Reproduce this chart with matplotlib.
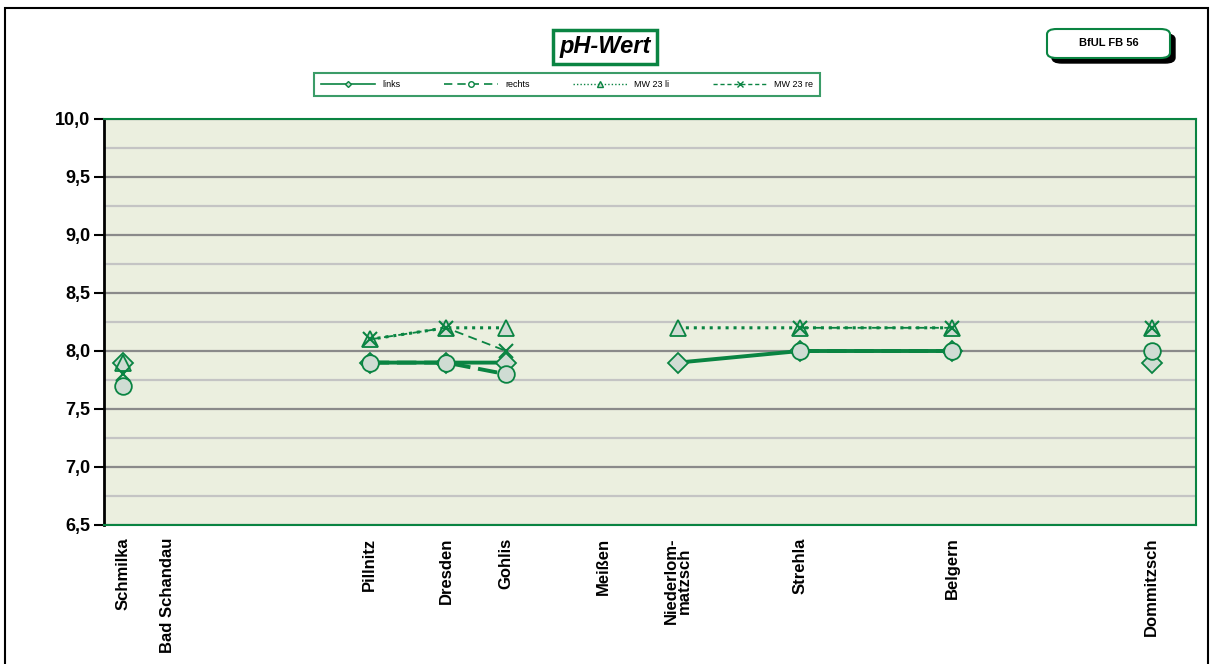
import numpy as np
import matplotlib
matplotlib.use("Agg")
import matplotlib.pyplot as plt
from matplotlib.lines import Line2D
from matplotlib.patches import Rectangle, FancyBboxPatch
from matplotlib.ticker import MultipleLocator, FuncFormatter

plt.rcParams['font.family'] = ['Liberation Sans', 'DejaVu Sans']

# --- data -------------------------------------------------------------
stations = ["Schmilka", "Bad Schandau", "Pillnitz", "Dresden", "Gohlis", "Meißen",
            "Niederlom-\nmatzsch", "Strehla", "Belgern", "Dommitzsch"]
km = [3.1, 10.5, 43.8, 56.4, 66.3, 82.3, 94.6, 114.7, 139.8, 172.7]
nan = np.nan
links = [7.9, nan, 7.9, 7.9, 7.9, nan, 7.9, 8.0, 8.0, 7.9]
rechts = [7.7, nan, 7.9, 7.9, 7.8, nan, nan, 8.0, 8.0, 8.0]
mw23_li = [7.9, nan, 8.1, 8.2, 8.2, nan, 8.2, 8.2, 8.2, 8.2]
mw23_re = [7.8, nan, 8.1, 8.2, 8.0, nan, nan, 8.2, 8.2, 8.2]
# stations that start a new (unconnected) line section
break_before = ["Dommitzsch"]
series_names = ["links", "rechts", "MW 23 li", "MW 23 re"]
title = "pH-Wert"
badge = "BfUL FB 56"

# --- style ------------------------------------------------------------
GREEN = "#0a8442"
FILL = "#cfdcd3"
BG = "#ebefdf"

W, H = 1211, 664
fig = plt.figure(figsize=(W / 100, H / 100), dpi=100)
fig.patch.set_facecolor("white")

def fx(px):
    return px / W

def fy(py):
    return 1 - py / H

ax = fig.add_axes([fx(104), fy(525), fx(1196) - fx(104), fy(119) - fy(525)])
ax.set_facecolor(BG)
ax.set_xlim(0, 180)
ax.set_ylim(6.5, 10.0)

# grid
ax.yaxis.set_major_locator(MultipleLocator(0.5))
ax.yaxis.set_minor_locator(MultipleLocator(0.25))
ax.grid(which="major", axis="y", color="#8a8a8a", lw=1.6, zorder=0)
ax.grid(which="minor", axis="y", color="#c4c4c4", lw=1.6, zorder=0)
ax.set_axisbelow(True)

ax.yaxis.set_major_formatter(FuncFormatter(lambda v, p: f"{v:.1f}".replace(".", ",")))
ax.tick_params(axis="y", which="major", direction="out", length=7, width=1.5,
               color="black", labelsize=13, pad=3)
ax.tick_params(axis="y", which="minor", length=0)
for lab in ax.get_yticklabels():
    lab.set_fontweight("bold")

ax.set_xticks(km)
ax.set_xticklabels(stations, rotation=90, fontsize=12, fontweight="bold",
                   linespacing=0.9)
ax.tick_params(axis="x", length=0, pad=9)

for side in ["top", "right", "bottom"]:
    ax.spines[side].set_color(GREEN)
    ax.spines[side].set_linewidth(1.5)
ax.spines["left"].set_color("black")
ax.spines["left"].set_linewidth(2)

# split series into sections at the breaks
x_arr = np.array(km, dtype=float)
sec_id = np.cumsum([1 if s in break_before else 0 for s in stations])


def plot_series(vals, line_kw, marker_kw, z):
    v = np.array(vals, dtype=float)
    for s in np.unique(sec_id):
        m = sec_id == s
        ax.plot(x_arr[m], v[m], zorder=z, marker="none", **line_kw)
    ax.plot(x_arr, v, ls="none", zorder=z + 0.5, **marker_kw)


plot_series(links, dict(color=GREEN, lw=2.8, ls="-"),
            dict(marker="D", ms=10, mfc=FILL, mec=GREEN, mew=1.3), 3)
plot_series(rechts, dict(color=GREEN, lw=2.8, ls=(0, (5, 2))),
            dict(marker="o", ms=12, mfc=FILL, mec=GREEN, mew=1.3), 4)
plot_series(mw23_li, dict(color=GREEN, lw=2.2, ls=(0, (1, 1.6))),
            dict(marker="^", ms=11, mfc=FILL, mec=GREEN, mew=1.3), 5)
plot_series(mw23_re, dict(color=GREEN, lw=1.3, ls=(0, (5, 3))),
            dict(marker="x", ms=10, mec=GREEN, mew=1.5), 6)

# legend
handles = [
    Line2D([], [], color=GREEN, lw=1.2, ls="-", marker="D", ms=3, mfc=FILL, mec=GREEN),
    Line2D([], [], color=GREEN, lw=1.2, ls=(0, (5, 3)), marker="o", ms=4, mfc="white", mec=GREEN),
    Line2D([], [], color=GREEN, lw=1.0, ls=(0, (1, 1.5)), marker="^", ms=4, mfc=FILL, mec=GREEN),
    Line2D([], [], color=GREEN, lw=1.0, ls=(0, (3, 2)), marker="x", ms=4, mec=GREEN),
]
leg = fig.legend(handles, series_names, loc="center",
                 bbox_to_anchor=(fx(567), fy(84.5)), ncol=4, fontsize=6.5,
                 handlelength=6, columnspacing=4.8, handletextpad=0.8,
                 frameon=True, fancybox=False, borderpad=0.8)
leg.get_frame().set_edgecolor(GREEN)
leg.get_frame().set_linewidth(1.5)
leg.get_frame().set_facecolor("white")

# title box
fig.text(fx(605), fy(47), title, ha="center", va="center", fontsize=17,
         fontweight="bold", fontstyle="italic",
         bbox=dict(boxstyle="square,pad=0.25", fc="white", ec=GREEN, lw=2.5))

# badge with shadow
bx0, by0, bw, bh = 1047, 29, 123, 29
shadow = FancyBboxPatch((fx(bx0 + 5), fy(by0 + bh + 5)), fx(bw), fy(0) - fy(bh),
                        boxstyle="round,pad=0,rounding_size=0.008",
                        transform=fig.transFigure, fc="black", ec="black", lw=1)
fig.patches.append(shadow)
box = FancyBboxPatch((fx(bx0), fy(by0 + bh)), fx(bw), fy(0) - fy(bh),
                     boxstyle="round,pad=0,rounding_size=0.008",
                     transform=fig.transFigure, fc="white", ec=GREEN, lw=1.5)
fig.patches.append(box)
fig.text(fx(bx0 + bw / 2), fy(by0 + bh / 2), badge, ha="center", va="center",
         fontsize=8, fontweight="bold")

# outer frame
frame = Rectangle((fx(5), fy(670)), fx(1208) - fx(5), fy(8) - fy(670),
                  transform=fig.transFigure, fill=False, ec="black", lw=1.5)
fig.patches.append(frame)

fig.savefig("out.png", dpi=100)
